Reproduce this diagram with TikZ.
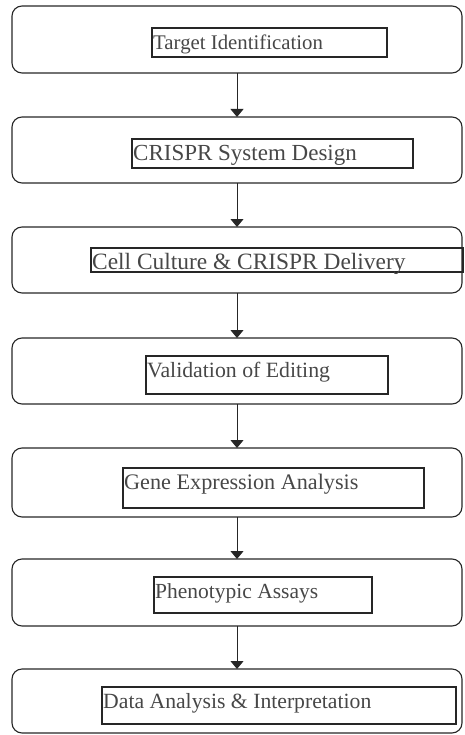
\documentclass[tikz,border=0pt]{standalone}
\usepackage{fontspec}
\setmainfont{Liberation Serif}
\usetikzlibrary{arrows.meta}
\begin{document}
\begin{tikzpicture}[x=1pt,y=-1pt,
  outerbox/.style={draw=black!85,line width=1.1pt,rounded corners=10pt,inner sep=0pt,outer sep=0pt,minimum width=450pt},
  innerbox/.style={draw=black!85,line width=1.4pt,inner sep=0pt,outer sep=0pt},
  steplabel/.style={anchor=base west,inner sep=0pt,text=black!72},
  arr/.style={draw=black!85,line width=0.9pt,-{Triangle[width=13pt,length=8pt]}}]
\useasboundingbox (0,0) rectangle (465,735);
\foreach \i/\t/\b/\xa/\xb/\ya/\yb/\fs/\txt in {
  1/6/73/152/387/28/57/20.8/{Target Identification},
  2/117/183/132/413/139/168/23.0/{CRISPR System Design},
  3/227/293/91/463/248/272/23.4/{Cell Culture \& CRISPR Delivery},
  4/338/404/146/388/356/394/21.8/{Validation of Editing},
  5/448/517/123/424/468/508/22.2/{Gene Expression Analysis},
  6/559/626/154/372/577/613/21.5/{Phenotypic Assays},
  7/669/733/102/456/687/724/21.7/{Data Analysis \& Interpretation}}{
  \node[outerbox,minimum height={(\b-\t)*1pt}] (o\i) at (237,{(\t+\b)/2}) {};
  \node[innerbox,minimum width={(\xb-\xa)*1pt},minimum height={(\yb-\ya)*1pt}] (r\i) at ({(\xa+\xb)/2},{(\ya+\yb)/2}) {};
  \node[steplabel,font=\fontsize{\fs}{\fs}\selectfont] (t\i) at (\xa+1,\ya+21.5) {\txt};
}
\foreach \i [evaluate=\i as \j using int(\i+1)] in {1,...,6}
  \draw[arr] (o\i.south) -- (o\j.north);
\end{tikzpicture}
\end{document}
